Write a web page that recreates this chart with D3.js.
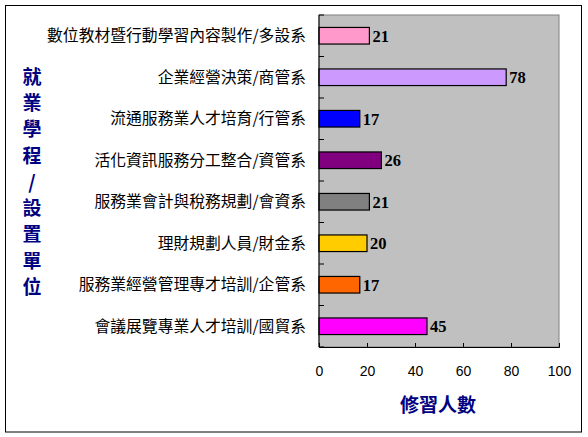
<!DOCTYPE html>
<html><head><meta charset="utf-8">
<script src="https://cdn.jsdelivr.net/npm/d3@7"></script>
<style>html,body{margin:0;padding:0;background:#fff;}svg{display:block;}</style>
</head><body>
<svg id="c" width="588" height="437"></svg>
<script>
const categories = ["數位教材暨行動學習內容製作/多設系","企業經營決策/商管系","流通服務業人才培育/行管系","活化資訊服務分工整合/資管系","服務業會計與稅務規劃/會資系","理財規劃人員/財金系","服務業經營管理專才培訓/企管系","會議展覽專業人才培訓/國貿系"];
const values = [21,78,17,26,21,20,17,45];
const colors = ["#FF99CC","#CC99FF","#0000FF","#800080","#808080","#FFCC00","#FF6600","#FF00FF"];
const xTicks = [0,20,40,60,80,100];
const yTitle = ["就","業","學","程","/","設","置","單","位"];
const xTitle = "修習人數";

const svg = d3.select("#c");
svg.append("rect").attr("x",5.5).attr("y",5.5).attr("width",576).attr("height",426.5)
  .attr("fill","#fff").attr("stroke","#000").attr("stroke-width",1);

const L=319, R=559, T=15, B=347;
const x = d3.scaleLinear().domain([0,100]).range([L,R]);
const y = d3.scaleBand().domain(categories).range([T,B]).paddingInner(0.6).paddingOuter(0.3);
const yb = d3.scaleBand().domain(categories).range([T,B]);

svg.append("rect").attr("x",L).attr("y",T).attr("width",R-L).attr("height",B-T)
  .attr("fill","#C0C0C0").attr("stroke","#808080").attr("stroke-width",1);

svg.selectAll("rect.bar").data(values).enter().append("rect").attr("class","bar")
  .attr("x",x(0)).attr("y",(d,i)=>y(categories[i]))
  .attr("width",d=>x(d)-x(0)).attr("height",y.bandwidth())
  .attr("fill",(d,i)=>colors[i]).attr("stroke","#000").attr("stroke-width",1.2);

svg.selectAll("text.val").data(values).enter().append("text").attr("class","val")
  .attr("x",d=>x(d)+3).attr("y",(d,i)=>y(categories[i])+y.bandwidth()/2)
  .attr("dy","0.36em").attr("font-family","'Liberation Serif','Times New Roman',serif")
  .attr("font-weight","bold").attr("font-size",16.5).text(d=>d);

// y axis with inner ticks at band boundaries
svg.append("line").attr("x1",L).attr("x2",L).attr("y1",T).attr("y2",B).attr("stroke","#000");
svg.selectAll("line.yt").data(categories.concat(["end"])).enter().append("line").attr("class","yt")
  .attr("x1",L).attr("x2",L+5)
  .attr("y1",(d,i)=>i<categories.length?yb(d):B).attr("y2",(d,i)=>i<categories.length?yb(d):B)
  .attr("stroke","#000");
svg.selectAll("text.cat").data(categories).enter().append("text").attr("class","cat")
  .attr("x",306).attr("y",d=>yb(d)+yb.bandwidth()/2).attr("dy","0.36em")
  .attr("text-anchor","end").attr("font-family","'Noto Sans CJK TC',sans-serif")
  .attr("font-size",15.8).attr("fill","#000").text(d=>d);

// x axis
const xa = svg.append("g").attr("transform",`translate(0,${B})`)
  .call(d3.axisBottom(x).tickValues(xTicks).tickSize(-4).tickPadding(19));
xa.select(".domain").attr("stroke","#000");
xa.selectAll("text").attr("font-family","'Liberation Sans',Arial,sans-serif").attr("font-size",14).attr("fill","#000");

svg.append("text").attr("x",438).attr("y",405).attr("dy","0.36em").attr("text-anchor","middle")
  .attr("font-family","'Noto Sans CJK TC',sans-serif").attr("font-weight","bold")
  .attr("font-size",19).attr("fill","#000080").text(xTitle);

svg.selectAll("text.yt").data(yTitle).enter().append("text").attr("class","yt")
  .attr("x",32).attr("y",(d,i)=>77+i*26.25).attr("dy","0.36em").attr("text-anchor","middle")
  .attr("font-family","'Noto Sans CJK TC',sans-serif").attr("font-weight","bold")
  .attr("font-size",19).attr("fill","#000080").text(d=>d);
</script>
</body></html>
